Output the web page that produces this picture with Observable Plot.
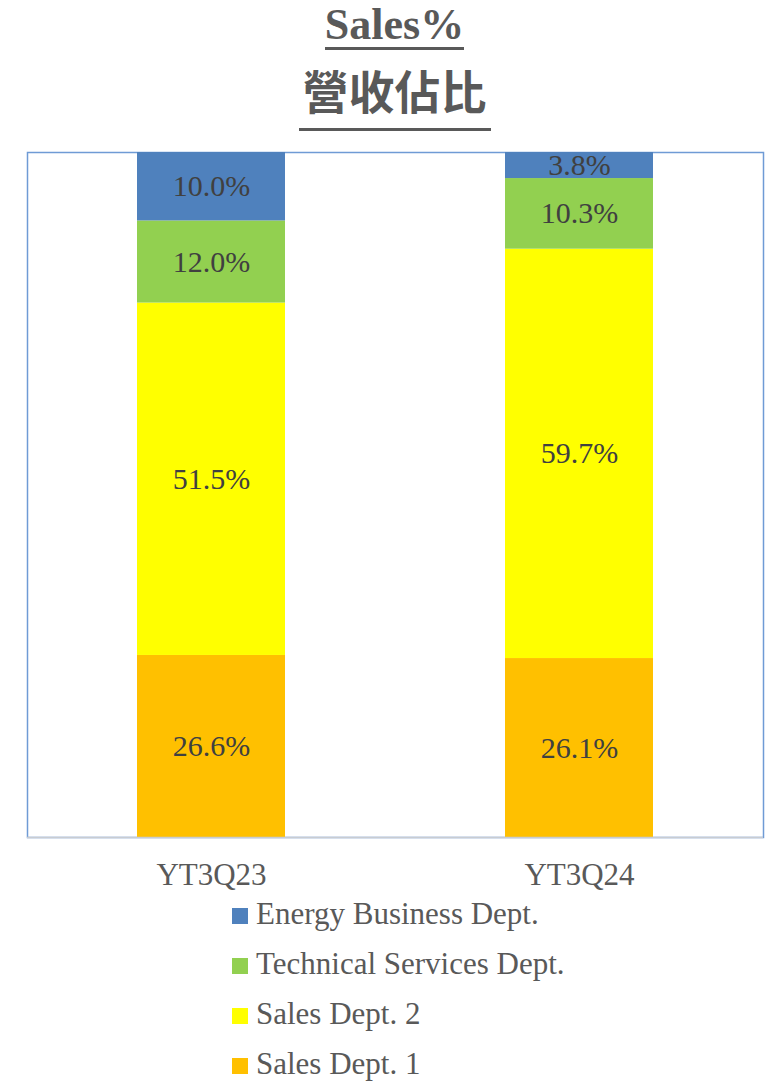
<!DOCTYPE html>
<html>
<head>
<meta charset="utf-8">
<script src="https://cdn.jsdelivr.net/npm/d3@7"></script>
<script src="https://cdn.jsdelivr.net/npm/@observablehq/plot@0.6"></script>
<style>
  html, body { margin: 0; padding: 0; background: #fff; }
  body { width: 767px; height: 1082px; position: relative; overflow: hidden; }
  .t1 { position: absolute; left: 22px; width: 745px; top: 3px; text-align: center; }
  .t1 span { display: inline-block; font-family: "Liberation Serif", serif; font-weight: bold; font-size: 44px; line-height: 44px; color: #595959; border-bottom: 3px solid #595959; }
  .t2 { position: absolute; left: 22px; width: 745px; top: 66px; text-align: center; }
  .t2 span { display: inline-block; font-family: "Noto Sans CJK TC", sans-serif; font-weight: 700; font-size: 46px; line-height: 46px; color: #595959; padding: 0 4px 16px 4px; border-bottom: 3px solid #595959; }
  #chart { position: absolute; left: 0; top: 140px; }
  #chart svg { display: block; }
  #chart svg text { font-family: "Liberation Serif", serif !important; }
  #legend { position: absolute; left: 232px; top: 889px; font-family: "Liberation Serif", serif; font-size: 31px; line-height: 50px; color: #595959; }
  #legend .row { white-space: nowrap; height: 50px; }
  #legend .sw { display: inline-block; width: 16px; height: 16px; margin-right: 8px; vertical-align: baseline; }
</style>
</head>
<body>
<div class="t1"><span>Sales%</span></div>
<div class="t2"><span>營收佔比</span></div>
<div id="chart"></div>
<div id="legend"></div>
<script>
const quarters = ["YT3Q23", "YT3Q24"];
const depts = ["Sales Dept. 1", "Sales Dept. 2", "Technical Services Dept.", "Energy Business Dept."];
const deptColors = ["#ffc000", "#ffff00", "#92d050", "#4f81bd"];
const yt3q23 = [26.6, 51.5, 12.0, 10.0];
const yt3q24 = [26.1, 59.7, 10.3, 3.8];
const legendOrder = ["Energy Business Dept.", "Technical Services Dept.", "Sales Dept. 2", "Sales Dept. 1"];

const series = [yt3q23, yt3q24];
const data = [];
quarters.forEach((q, i) => depts.forEach((d, j) => data.push({q, dept: d, v: series[i][j]})));

const chart = Plot.plot({
  width: 767,
  height: 760,
  marginLeft: 27,
  marginRight: 4,
  marginTop: 12,
  marginBottom: 63,
  style: { fontFamily: "'Liberation Serif', serif", fontSize: "31px", color: "#595959", background: "transparent" },
  x: { domain: quarters, paddingInner: 0.598, paddingOuter: 0.299, label: null, tickSize: 0, tickPadding: 25 },
  y: { domain: [0, 1], axis: null },
  color: { domain: depts, range: deptColors },
  marks: [
    Plot.frame({ stroke: "#6f9bd5", strokeWidth: 1.5 }),
    Plot.barY(data, Plot.stackY({ x: "q", y: "v", fill: "dept", offset: "normalize" })),
    Plot.text(data, Plot.stackY({ x: "q", y: "v", z: "dept", offset: "normalize",
      text: d => d.v.toFixed(1) + "%", fill: "#404040", fontSize: 30, fontFamily: "Liberation Serif" })),
    Plot.ruleY([0], { stroke: "#c8ccd2", strokeWidth: 1.5 })
  ]
});
document.getElementById("chart").appendChild(chart);

const legend = document.getElementById("legend");
legendOrder.forEach(name => {
  const row = document.createElement("div");
  row.className = "row";
  const sw = document.createElement("span");
  sw.className = "sw";
  sw.style.background = deptColors[depts.indexOf(name)];
  row.appendChild(sw);
  row.appendChild(document.createTextNode(name));
  legend.appendChild(row);
});
</script>
</body>
</html>
